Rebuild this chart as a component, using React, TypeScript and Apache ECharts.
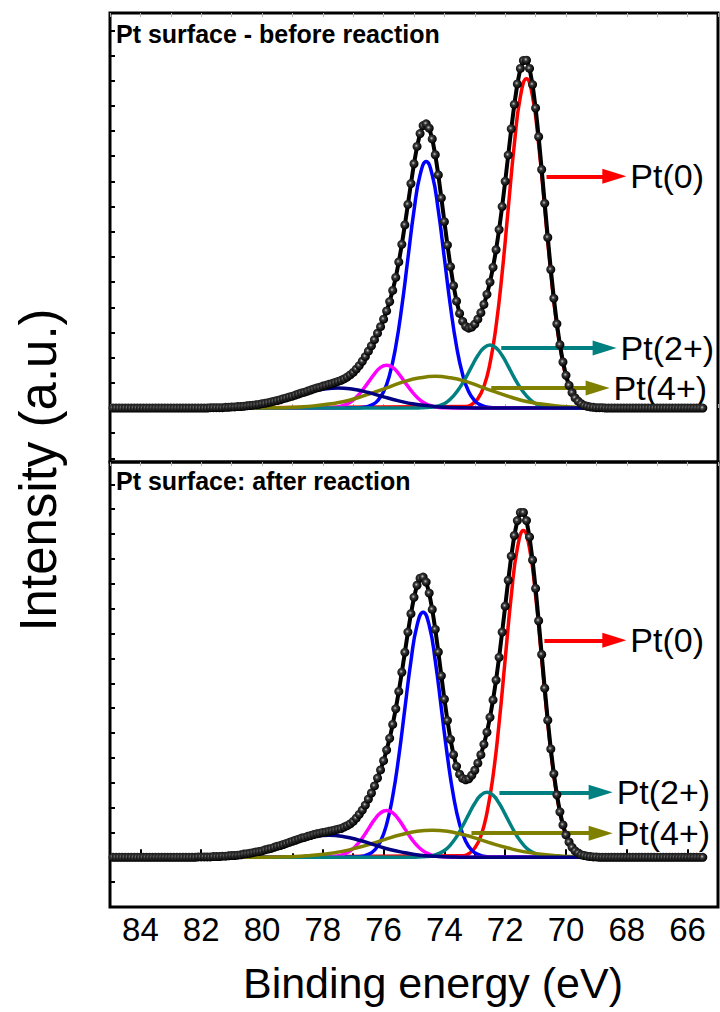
import React, { useEffect, useRef } from "react";
import * as echarts from "echarts";

const FONT = "'Liberation Sans', Arial, Helvetica, sans-serif";

// ---------- measured spectra (binding energy grid 84.9 -> 65.5 eV, step 0.1) ----------
const MEASURED_E_START = 84.9;
const MEASURED_E_STEP = 0.1;

const beforeMeasured = [
  0, 0, 0, 0, 0, 0, 0, 0, 0, 0,
  0, 0, 0, 0, 0, 0, 0, 0, 0, 0,
  0, 0, 0, 0, 0, 0, 0, 0, 0, 0,
  0, 0, 0.1, 0.1, 0.1, 0.1, 0.1, 0.2, 0.2, 0.3,
  0.3, 0.4, 0.4, 0.5, 0.6, 0.7, 0.8, 0.9, 1.0, 1.2,
  1.3, 1.5, 1.7, 1.9, 2.1, 2.3, 2.6, 2.8, 3.1, 3.3,
  3.6, 3.9, 4.2, 4.4, 4.7, 5.0, 5.3, 5.6, 5.8, 6.1,
  6.3, 6.6, 6.8, 7.1, 7.4, 7.7, 8.1, 8.6, 9.2, 9.9,
  10.8, 11.8, 13.0, 14.3, 15.8, 17.3, 19.0, 20.8, 22.6, 24.7,
  27.0, 29.6, 32.7, 36.3, 40.6, 45.5, 50.9, 56.6, 62.4, 67.9,
  72.7, 76.3, 78.5, 79.0, 77.8, 74.8, 70.4, 64.8, 58.4, 51.8,
  45.3, 39.3, 34.0, 29.7, 26.3, 24.1, 22.7, 22.2, 22.5, 23.3,
  24.7, 26.5, 28.8, 31.6, 35.0, 39.1, 44.0, 49.6, 56.0, 63.0,
  70.3, 77.6, 84.4, 90.1, 94.4, 96.6, 96.7, 94.4, 89.9, 83.4,
  75.4, 66.3, 56.9, 47.4, 38.5, 30.5, 23.4, 17.6, 12.8, 9.1,
  6.3, 4.3, 2.8, 1.9, 1.2, 0.7, 0.5, 0.3, 0.2, 0.1,
  0.1, 0.1, 0, 0, 0, 0, 0, 0, 0, 0,
  0, 0, 0, 0, 0, 0, 0, 0, 0, 0,
  0, 0, 0, 0, 0, 0, 0, 0, 0, 0,
  0, 0, 0, 0, 0,
];

const afterMeasured = [
  0, 0, 0, 0, 0, 0, 0, 0, 0, 0,
  0, 0, 0, 0, 0, 0, 0, 0, 0, 0,
  0, 0, 0, 0, 0, 0, 0, 0, 0.1, 0.1,
  0.1, 0.1, 0.1, 0.2, 0.2, 0.2, 0.3, 0.3, 0.4, 0.5,
  0.5, 0.6, 0.7, 0.9, 1.0, 1.1, 1.3, 1.5, 1.6, 1.8,
  2.1, 2.3, 2.5, 2.8, 3.1, 3.3, 3.6, 3.9, 4.2, 4.5,
  4.8, 5.1, 5.4, 5.6, 5.9, 6.1, 6.4, 6.6, 6.8, 7.0,
  7.1, 7.3, 7.5, 7.7, 7.9, 8.1, 8.5, 8.9, 9.4, 10.1,
  11.0, 12.1, 13.3, 14.7, 16.4, 18.1, 20.1, 22.3, 24.6, 27.2,
  30.2, 33.5, 37.4, 41.8, 46.7, 52.1, 57.7, 63.4, 68.6, 73.2,
  76.6, 78.6, 78.9, 77.5, 74.4, 69.8, 64.2, 57.8, 51.1, 44.5,
  38.5, 33.2, 28.9, 25.6, 23.4, 22.2, 21.8, 22.1, 23.1, 24.5,
  26.5, 28.9, 31.8, 35.2, 39.4, 44.3, 49.9, 56.3, 63.4, 70.7,
  78.0, 84.8, 90.6, 94.8, 97.1, 97.1, 94.8, 90.2, 83.7, 75.7,
  66.6, 57.1, 47.6, 38.6, 30.5, 23.5, 17.6, 12.8, 9.1, 6.3,
  4.3, 2.8, 1.8, 1.2, 0.7, 0.5, 0.3, 0.2, 0.1, 0.1,
  0, 0, 0, 0, 0, 0, 0, 0, 0, 0,
  0, 0, 0, 0, 0, 0, 0, 0, 0, 0,
  0, 0, 0, 0, 0, 0, 0, 0, 0, 0,
  0, 0, 0, 0, 0,
];

// ---------- fitted components (e0 = first energy, de = step toward lower BE) ----------
const FIT_SPAN = [81.4, 69.2];
const BASELINE = 0;

const beforePt0_72 = { e0: 73.3, de: 0.2, v: [0.4, 1.0, 2.6, 6.0, 12.4, 22.8, 37.6, 55.5, 73.3, 86.6, 91.5, 86.6, 73.3, 55.5, 37.6, 22.8, 12.4, 6.0, 2.6, 1.0, 0.4] };
const beforePt0_52 = { e0: 76.8, de: 0.2, v: [0.1, 0.3, 0.8, 2.0, 4.5, 9.3, 17.1, 28.2, 41.6, 54.9, 64.8, 68.5, 64.8, 54.9, 41.6, 28.2, 17.1, 9.3, 4.5, 2.0, 0.8, 0.3, 0.1] };
const beforePt2_52 = { e0: 78.1, de: 0.2, v: [0, 0.1, 0.1, 0.3, 0.8, 1.6, 3.0, 4.9, 7.2, 9.5, 11.3, 11.9, 11.3, 9.5, 7.2, 4.9, 3.0, 1.6, 0.8, 0.3, 0.1, 0.1, 0] };
const beforePt2_72 = { e0: 74.9, de: 0.2, v: [0, 0.1, 0.2, 0.4, 0.9, 1.8, 3.4, 5.6, 8.4, 11.6, 14.6, 16.7, 17.5, 16.7, 14.6, 11.6, 8.4, 5.6, 3.4, 1.8, 0.9, 0.4, 0.2, 0.1, 0] };
const beforePt4_72 = { e0: 80.3, de: 0.5, v: [0.0, 0.1, 0.1, 0.3, 0.6, 1.1, 1.8, 3.0, 4.4, 5.9, 7.4, 8.4, 8.8, 8.4, 7.4, 5.9, 4.4, 3.0, 1.8, 1.1, 0.6, 0.3, 0.1] };
const beforePt4_52 = { e0: 81.0, de: 0.5, v: [0.2, 0.6, 1.1, 2.0, 3.1, 4.3, 5.2, 5.6, 5.2, 4.3, 3.1, 2.0, 1.1, 0.6, 0.2, 0.1, 0.0] };

const afterPt0_72 = { e0: 73.4, de: 0.2, v: [0.4, 1.0, 2.6, 6.0, 12.5, 22.9, 37.8, 55.8, 73.7, 87.0, 92.0, 87.0, 73.7, 55.8, 37.8, 22.9, 12.5, 6.0, 2.6, 1.0, 0.4] };
const afterPt0_52 = { e0: 76.9, de: 0.2, v: [0.1, 0.3, 0.8, 2.0, 4.5, 9.3, 17.2, 28.4, 41.9, 55.3, 65.3, 69.0, 65.3, 55.3, 41.9, 28.4, 17.2, 9.3, 4.5, 2.0, 0.8, 0.3, 0.1] };
const afterPt2_52 = { e0: 78.1, de: 0.2, v: [0, 0.1, 0.2, 0.4, 0.9, 1.8, 3.3, 5.4, 8.0, 10.6, 12.5, 13.2, 12.5, 10.6, 8.0, 5.4, 3.3, 1.8, 0.9, 0.4, 0.2, 0.1, 0] };
const afterPt2_72 = { e0: 75.0, de: 0.2, v: [0, 0.1, 0.2, 0.4, 1.0, 1.9, 3.5, 5.8, 8.8, 12.1, 15.2, 17.5, 18.3, 17.5, 15.2, 12.1, 8.8, 5.8, 3.5, 1.9, 1.0, 0.4, 0.2, 0.1, 0] };
const afterPt4_72 = { e0: 80.4, de: 0.5, v: [0.0, 0.0, 0.1, 0.2, 0.5, 0.9, 1.6, 2.6, 3.8, 5.2, 6.4, 7.3, 7.6, 7.3, 6.4, 5.2, 3.8, 2.6, 1.6, 0.9, 0.5, 0.2, 0.1] };
const afterPt4_52 = { e0: 81.3, de: 0.5, v: [0.3, 0.6, 1.3, 2.2, 3.5, 4.8, 5.8, 6.2, 5.8, 4.8, 3.5, 2.2, 1.3, 0.6, 0.3, 0.1, 0.0] };

// ---------- annotations ----------
const PANEL_TITLES = ["Pt surface - before reaction", "Pt surface: after reaction"];
const ARROW_LABELS = ["Pt(0)", "Pt(2+)", "Pt(4+)"];
const beforeArrowFrom = [70.64, 72.13, 72.46];
const beforeArrowTo = [68.41, 68.73, 68.96];
const beforeArrowLevel = [64.4, 16.7, 5.6];
const afterArrowFrom = [70.71, 72.19, 73.11];
const afterArrowTo = [68.41, 68.86, 68.86];
const afterArrowLevel = [61.1, 18.3, 6.8];

const X_TITLE = "Binding energy (eV)";
const Y_TITLE = "Intensity (a.u.)";

const COLORS = {
  pt0_72: "#ff0000",
  pt0_52: "#0000ff",
  pt2_52: "#ff00ff",
  pt2_72: "#008080",
  pt4_72: "#808000",
  pt4_52: "#000080",
};

function measuredPairs(vals: number[]) {
  return vals.map((v, i) => [+(MEASURED_E_START - i * MEASURED_E_STEP).toFixed(2), v]);
}

function compPairs(c: { e0: number; de: number; v: number[] }) {
  const pts = c.v.map((v, i) => [+(c.e0 - i * c.de).toFixed(2), v]);
  return [[FIT_SPAN[0], BASELINE], ...pts, [FIT_SPAN[1], BASELINE]];
}

function arrow(label: string, color: string, from: number, to: number, level: number) {
  return {
    silent: true,
    animation: false,
    symbol: ["none", "triangle"],
    symbolSize: [15, 24],
    lineStyle: { color, width: 4, type: "solid" },
    emphasis: { disabled: true },
    label: {
      show: true,
      position: "end",
      formatter: label,
      color: "#000",
      fontSize: 34,
      fontFamily: FONT,
      distance: 16,
    },
    data: [[{ coord: [from, level] }, { coord: [to, level] }]],
  };
}

function fitSeries(name: string, comp: any, color: string, idx: number, markLine?: any) {
  return {
    type: "line",
    name,
    xAxisIndex: idx * 2,
    yAxisIndex: idx,
    data: compPairs(comp),
    smooth: true,
    symbol: "none",
    showSymbol: false,
    lineStyle: { color, width: 3.5 },
    itemStyle: { color },
    emphasis: { disabled: true },
    z: 2,
    ...(markLine ? { markLine } : {}),
  };
}

const ballColor = {
  type: "radial",
  x: 0.42,
  y: 0.42,
  r: 0.55,
  colorStops: [
    { offset: 0, color: "#c8c8c8" },
    { offset: 0.35, color: "#3a3a3a" },
    { offset: 1, color: "#000000" },
  ],
};

function measuredSeries(name: string, vals: number[], idx: number) {
  return {
    type: "line",
    name,
    xAxisIndex: idx * 2,
    yAxisIndex: idx,
    data: measuredPairs(vals),
    symbol: "circle",
    symbolSize: 9,
    showSymbol: true,
    showAllSymbol: true,
    lineStyle: { color: "#000", width: 4 },
    itemStyle: { color: ballColor, borderWidth: 0 },
    emphasis: { disabled: true },
    z: 5,
  };
}

function panelSeries(idx: number) {
  const b = idx === 0;
  const from = b ? beforeArrowFrom : afterArrowFrom;
  const to = b ? beforeArrowTo : afterArrowTo;
  const lv = b ? beforeArrowLevel : afterArrowLevel;
  return [
    fitSeries("Pt(0) 4f7/2", b ? beforePt0_72 : afterPt0_72, COLORS.pt0_72, idx,
      arrow(ARROW_LABELS[0], COLORS.pt0_72, from[0], to[0], lv[0])),
    fitSeries("Pt(0) 4f5/2", b ? beforePt0_52 : afterPt0_52, COLORS.pt0_52, idx),
    fitSeries("Pt(2+) 4f5/2", b ? beforePt2_52 : afterPt2_52, COLORS.pt2_52, idx),
    fitSeries("Pt(2+) 4f7/2", b ? beforePt2_72 : afterPt2_72, COLORS.pt2_72, idx,
      arrow(ARROW_LABELS[1], COLORS.pt2_72, from[1], to[1], lv[1])),
    fitSeries("Pt(4+) 4f7/2", b ? beforePt4_72 : afterPt4_72, COLORS.pt4_72, idx,
      arrow(ARROW_LABELS[2], COLORS.pt4_72, from[2], to[2], lv[2])),
    fitSeries("Pt(4+) 4f5/2", b ? beforePt4_52 : afterPt4_52, COLORS.pt4_52, idx),
    measuredSeries(b ? "before" : "after", b ? beforeMeasured : afterMeasured, idx),
  ];
}

function xAxisCfg(grid: number, position: string, main: boolean) {
  const tickColor = main ? "#000" : "#b0b0b0";
  const tickW = main ? 2 : 1;
  return {
    type: "value",
    gridIndex: grid,
    position,
    min: 65,
    max: 85,
    inverse: true,
    minInterval: 2,
    maxInterval: 2,
    axisLine: { show: false },
    splitLine: { show: false },
    axisTick: { show: true, inside: true, length: main ? 8 : 4, lineStyle: { color: tickColor, width: tickW } },
    minorTick: { show: true, splitNumber: 2, length: 4, lineStyle: { color: tickColor, width: tickW } },
    axisLabel: main
      ? {
          show: true,
          showMinLabel: false,
          showMaxLabel: false,
          color: "#000",
          fontSize: 33,
          fontFamily: FONT,
          margin: 6,
          formatter: (v: number) => (Math.round(v) % 2 === 0 ? String(v) : ""),
        }
      : { show: false },
  };
}

function yAxisCfg(grid: number, min: number, max: number) {
  return {
    type: "value",
    gridIndex: grid,
    min,
    max,
    minInterval: 7,
    maxInterval: 7,
    axisLine: { show: false },
    splitLine: { show: false },
    axisLabel: { show: false },
    axisTick: { show: true, inside: true, length: 5, lineStyle: { color: "#000", width: 2 } },
  };
}

function buildOption() {
  return {
    animation: false,
    backgroundColor: "#fff",
    grid: [
      { left: 110, top: 13, width: 608, height: 449, show: true, borderColor: "#000", borderWidth: 3, containLabel: false },
      { left: 110, top: 462, width: 608, height: 445, show: true, borderColor: "#000", borderWidth: 3, containLabel: false },
    ],
    xAxis: [
      xAxisCfg(0, "bottom", false),
      xAxisCfg(0, "top", false),
      xAxisCfg(1, "bottom", true),
      xAxisCfg(1, "top", false),
    ],
    yAxis: [yAxisCfg(0, -15, 109.8), yAxisCfg(1, -14, 111.3)],
    series: [...panelSeries(0), ...panelSeries(1)],
    graphic: [
      {
        type: "text",
        x: 116,
        y: 34,
        style: { text: PANEL_TITLES[0], fontSize: 25, fontWeight: "bold", fontFamily: FONT, fill: "#000", align: "left", verticalAlign: "middle" },
      },
      {
        type: "text",
        x: 116,
        y: 481,
        style: { text: PANEL_TITLES[1], fontSize: 25, fontWeight: "bold", fontFamily: FONT, fill: "#000", align: "left", verticalAlign: "middle" },
      },
      {
        type: "text",
        x: 433,
        y: 983,
        style: { text: X_TITLE, fontSize: 43, fontFamily: FONT, fill: "#000", align: "center", verticalAlign: "middle" },
      },
      {
        type: "text",
        x: 38,
        y: 470,
        rotation: Math.PI / 2,
        style: { text: Y_TITLE, fontSize: 51, fontFamily: FONT, fill: "#000", align: "center", verticalAlign: "middle" },
      },
    ],
  };
}

export default function App() {
  const ref = useRef<HTMLDivElement>(null);
  useEffect(() => {
    document.body.style.margin = "0";
    const chart = echarts.init(ref.current as HTMLDivElement, null, { renderer: "svg" });
    chart.setOption(buildOption() as any);
    return () => chart.dispose();
  }, []);
  return <div ref={ref} style={{ position: "absolute", left: 0, top: 0, width: 720, height: 1012 }} />;
}
